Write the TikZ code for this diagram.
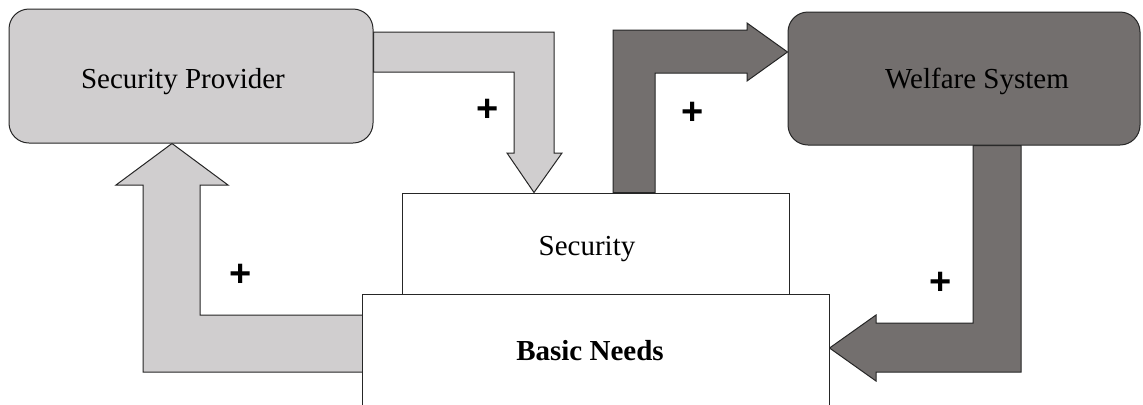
\documentclass[tikz,border=0pt]{standalone}
\usepackage{fontspec}
\setmainfont{Liberation Serif}
\newfontfamily\plusfont{Liberation Sans}
\usetikzlibrary{backgrounds}
\definecolor{lightgrey}{HTML}{D0CECF}
\definecolor{darkgrey}{HTML}{736F6E}
\begin{document}
\begin{tikzpicture}[x=0.5pt,y=-0.5pt,
  box/.style={draw=black!85, line width=0.5pt, inner sep=0pt, text depth=3pt,
    font=\fontsize{14.5}{17}\selectfont},
  roundbox/.style={box, rounded corners=10pt},
  fatarrow/.style={draw=black!85, line width=0.5pt, line join=miter},
  sign/.style={font=\plusfont\bfseries\fontsize{19}{20}\selectfont, inner sep=0pt}]
\useasboundingbox (0,0) rectangle (1143,404);

% boxes (text height and kerns set the label position inside each box)
\node[roundbox, fill=lightgrey, minimum width=182pt, minimum height=67pt, text height=15pt]
  (sp) at (191,76) {Security Provider\kern8pt};
\node[roundbox, fill=darkgrey, minimum width=176pt, minimum height=66.5pt, text height=12.5pt]
  (ws) at (964,78.5) {\kern13pt Welfare System};
\node[box, fill=white, minimum width=193.5pt, minimum height=51pt, text height=14pt]
  (sec) at (595.5,244) {Security\kern8.5pt};
\node[box, draw=none, fill=white, minimum width=233pt, minimum height=54.5pt, text height=13.5pt]
  (bn) at (596,349.5) {\bfseries Basic Needs\kern6pt};
\draw[black!85, line width=0.5pt] (bn.south west) -- (bn.north west) -- (bn.north east) -- (bn.south east);

% feedback arrows
\begin{scope}[on background layer]
\draw[fatarrow, fill=lightgrey] (sp.east |- 0,32) -- (554,32) -- (554,153) -- (562,153) -- (534,0 |- sec.north)
  -- (507,153) -- (514,153) -- (514,72) -- (sp.east |- 0,72) -- cycle;
\draw[fatarrow, fill=darkgrey] (613,0 |- sec.north) -- (613,30) -- (747,30) -- (747,23) -- (ws.west |- 0,52)
  -- (747,81) -- (747,73) -- (655,73) -- (655,0 |- sec.north) -- cycle;
\draw[fatarrow, fill=darkgrey] (973,0 |- ws.south) -- (973,323) -- (876,323) -- (876,315) -- (bn.east |- 0,348)
  -- (876,381) -- (876,372) -- (1021,372) -- (1021,0 |- ws.south) -- cycle;
\draw[fatarrow, fill=lightgrey] (bn.west |- 0,315) -- (200,315) -- (200,185) -- (228,185) -- (172,0 |- sp.south)
  -- (116,185) -- (143,185) -- (143,372) -- (bn.west |- 0,372) -- cycle;
\end{scope}

% polarity signs
\node[sign] (p1) at (488,110) {+};
\node[sign] (p2) at (693,113) {+};
\node[sign] (p3) at (241,275) {+};
\node[sign] (p4) at (941,283) {+};
\end{tikzpicture}
\end{document}
